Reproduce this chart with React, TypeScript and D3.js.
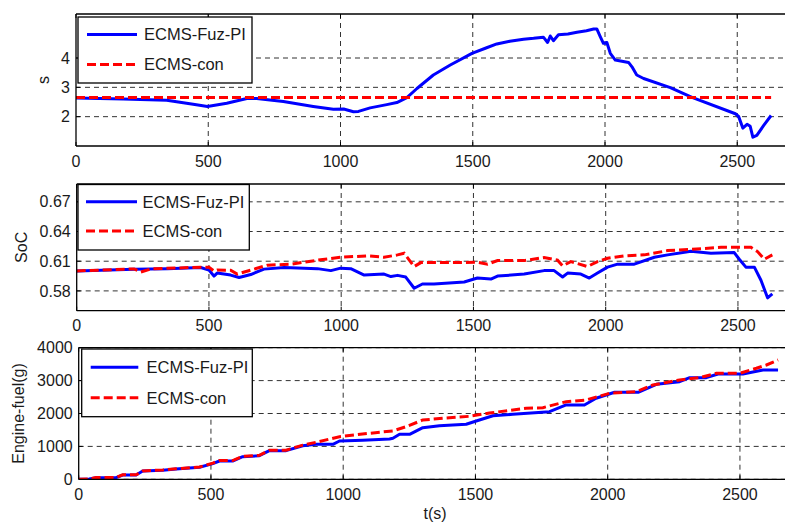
import React from "react";
import * as d3 from "d3";

// ---------- data ----------
const xTicks = [0, 500, 1000, 1500, 2000, 2500];

const sFuzT = [0, 178, 343, 443, 497, 570, 646, 683, 784, 897, 973, 1012, 1049, 1068, 1112, 1175, 1213, 1251, 1289, 1351, 1415, 1497, 1550, 1591, 1640, 1692, 1730, 1767, 1783, 1793, 1805, 1824, 1860, 1894, 1930, 1957, 1969, 1982, 1994, 2007, 2020, 2039, 2089, 2102, 2120, 2146, 2247, 2329, 2493, 2505, 2521, 2537, 2549, 2559, 2574, 2600, 2628];
const sFuzV = [2.64, 2.6, 2.56, 2.42, 2.35, 2.46, 2.62, 2.62, 2.52, 2.35, 2.25, 2.26, 2.17, 2.18, 2.3, 2.41, 2.48, 2.65, 2.96, 3.42, 3.76, 4.16, 4.34, 4.48, 4.57, 4.64, 4.67, 4.71, 4.53, 4.75, 4.59, 4.79, 4.82, 4.88, 4.93, 4.99, 4.99, 4.73, 4.5, 4.53, 4.16, 3.93, 3.85, 3.7, 3.42, 3.3, 2.99, 2.66, 2.1, 2.01, 1.61, 1.74, 1.67, 1.3, 1.36, 1.7, 2.04];
const sConT = [0, 2628];
const sConV = [2.65, 2.65];
const sTicks = [2, 3, 4];

const socFuzT = [0, 217, 343, 469, 500, 519, 531, 582, 614, 658, 708, 784, 910, 961, 998, 1036, 1087, 1162, 1188, 1213, 1244, 1276, 1307, 1351, 1465, 1515, 1566, 1591, 1692, 1767, 1805, 1837, 1856, 1906, 1938, 1969, 2007, 2045, 2108, 2184, 2234, 2322, 2398, 2486, 2505, 2530, 2562, 2587, 2612, 2630];
const socFuzV = [0.6002, 0.602, 0.6025, 0.6036, 0.601, 0.595, 0.598, 0.596, 0.5935, 0.5965, 0.602, 0.6036, 0.6025, 0.6005, 0.603, 0.6025, 0.596, 0.597, 0.5945, 0.5957, 0.594, 0.5827, 0.587, 0.587, 0.589, 0.593, 0.592, 0.595, 0.597, 0.6005, 0.6005, 0.594, 0.598, 0.597, 0.593, 0.598, 0.604, 0.607, 0.607, 0.614, 0.6164, 0.62, 0.618, 0.6187, 0.612, 0.604, 0.604, 0.5908, 0.573, 0.577];
const socConT = [0, 217, 242, 280, 469, 500, 519, 531, 582, 607, 658, 721, 809, 910, 998, 1099, 1162, 1213, 1238, 1276, 1301, 1440, 1515, 1553, 1591, 1692, 1767, 1818, 1837, 1868, 1931, 1969, 2007, 2070, 2146, 2234, 2322, 2436, 2549, 2574, 2600, 2630];
const socConV = [0.6002, 0.6022, 0.599, 0.6022, 0.604, 0.604, 0.6, 0.601, 0.6008, 0.597, 0.601, 0.606, 0.607, 0.611, 0.614, 0.6154, 0.614, 0.6164, 0.618, 0.6046, 0.6086, 0.6086, 0.609, 0.607, 0.6106, 0.6106, 0.6137, 0.611, 0.6053, 0.6096, 0.6046, 0.6096, 0.613, 0.6154, 0.6164, 0.6207, 0.622, 0.624, 0.624, 0.6197, 0.612, 0.6164];
const socTicks = [0.58, 0.61, 0.64, 0.67];

const fuelFuzT = [0, 40, 66, 141, 166, 217, 242, 318, 368, 457, 507, 532, 582, 620, 683, 721, 784, 847, 897, 961, 986, 1074, 1175, 1188, 1213, 1251, 1301, 1364, 1465, 1503, 1566, 1641, 1780, 1843, 1912, 1956, 2026, 2115, 2184, 2272, 2310, 2373, 2417, 2511, 2587, 2644];
const fuelFuzV = [0, 10, 50, 50, 130, 130, 250, 275, 313, 365, 475, 556, 556, 687, 718, 870, 870, 1021, 1064, 1064, 1164, 1186, 1225, 1246, 1368, 1368, 1569, 1629, 1672, 1772, 1933, 1976, 2055, 2259, 2259, 2462, 2645, 2645, 2888, 2967, 3089, 3089, 3201, 3201, 3323, 3323];
const fuelConT = [0, 40, 66, 141, 166, 217, 242, 318, 368, 457, 507, 532, 582, 620, 683, 721, 784, 847, 897, 986, 1099, 1188, 1238, 1301, 1377, 1478, 1553, 1692, 1755, 1843, 1918, 2007, 2108, 2171, 2272, 2348, 2411, 2499, 2562, 2600, 2644];
const fuelConV = [0, 10, 55, 55, 135, 135, 255, 285, 320, 375, 490, 570, 570, 700, 730, 880, 885, 1040, 1125, 1295, 1398, 1470, 1600, 1803, 1854, 1915, 2015, 2158, 2178, 2359, 2411, 2614, 2663, 2867, 3019, 3089, 3222, 3222, 3374, 3475, 3627];
const fuelTicks = [0, 1000, 2000, 3000, 4000];

const seriesNames = ["ECMS-Fuz-PI", "ECMS-con"];

// ---------- layout ----------
const FONT = "'Liberation Sans', Arial, Helvetica, sans-serif";
const PX_PER_UNIT = 0.2645;
const X_MAX = 2700;

type Panel = {
  left: number; top: number; bottom: number;
  yDomain: [number, number]; yTicks: number[];
  yLabel: string; yLabelX: number; fmt: (v: number) => string;
  fuz: [number[], number[]]; con: [number[], number[]];
  legend: { x: number; y: number; w: number; h: number; lx0: number; lx1: number; tx: number; r1: number; r2: number };
};

const panels: Panel[] = [
  {
    left: 76, top: 14, bottom: 146, yDomain: [1, 5.5], yTicks: sTicks,
    yLabel: "s", yLabelX: 43, fmt: (v) => String(v),
    fuz: [sFuzT, sFuzV], con: [sConT, sConV],
    legend: { x: 78, y: 17, w: 174, h: 66, lx0: 87, lx1: 137, tx: 144, r1: 34.5, r2: 64.5 },
  },
  {
    left: 76.7, top: 184, bottom: 310.7, yDomain: [0.56, 0.688], yTicks: socTicks,
    yLabel: "SoC", yLabelX: 21, fmt: (v) => v.toFixed(2),
    fuz: [socFuzT, socFuzV], con: [socConT, socConV],
    legend: { x: 78, y: 184.5, w: 171.3, h: 65.5, lx0: 86, lx1: 137, tx: 142.5, r1: 201.7, r2: 231 },
  },
  {
    left: 78.7, top: 347.7, bottom: 479.3, yDomain: [0, 4000], yTicks: fuelTicks,
    yLabel: "Engine-fuel(g)", yLabelX: 18.5, fmt: (v) => String(v),
    fuz: [fuelFuzT, fuelFuzV], con: [fuelConT, fuelConV],
    legend: { x: 81.7, y: 349, w: 170.6, h: 67.7, lx0: 90.7, lx1: 138.3, tx: 146.5, r1: 367.3, r2: 397.7 },
  },
];

const BLUE = "#0000ff";
const RED = "#ff0000";
const GRID = "#333333";

function PanelView({ p, idx }: { p: Panel; idx: number }) {
  const x = d3.scaleLinear().domain([0, X_MAX]).range([p.left, p.left + X_MAX * PX_PER_UNIT]);
  const y = d3.scaleLinear().domain(p.yDomain).range([p.bottom, p.top]);
  const right = x(X_MAX);
  const line = d3.line<[number, number]>().x((d) => x(d[0])).y((d) => y(d[1]));
  const pts = (s: [number[], number[]]) => s[0].map((t, i) => [t, s[1][i]] as [number, number]);
  const clipId = `clip${idx}`;
  const L = p.legend;
  return (
    <g>
      <defs>
        <clipPath id={clipId}>
          <rect x={p.left} y={p.top} width={right - p.left} height={p.bottom - p.top} />
        </clipPath>
      </defs>
      <rect x={p.left} y={p.top} width={right - p.left} height={p.bottom - p.top} fill="#fff" />
      {/* grid */}
      {xTicks.filter((t) => t > 0).map((t) => (
        <line key={"gx" + t} x1={x(t)} x2={x(t)} y1={p.top} y2={p.bottom} stroke={GRID} strokeWidth={1} strokeDasharray="5,4" />
      ))}
      {p.yTicks.map((t) => (
        <line key={"gy" + t} x1={p.left} x2={right} y1={y(t)} y2={y(t)} stroke={GRID} strokeWidth={1} strokeDasharray="5,4" />
      ))}
      {/* ticks */}
      {xTicks.map((t) => (
        <g key={"tx" + t}>
          <line x1={x(t)} x2={x(t)} y1={p.bottom} y2={p.bottom - 4} stroke="#000" />
          <line x1={x(t)} x2={x(t)} y1={p.top} y2={p.top + 4} stroke="#000" />
          <text x={x(t)} y={p.bottom + 20.5} textAnchor="middle" fontSize={16} fontFamily={FONT} fill="#1a1a1a">{t}</text>
        </g>
      ))}
      {p.yTicks.map((t) => (
        <g key={"ty" + t}>
          <line x1={p.left} x2={p.left + 4} y1={y(t)} y2={y(t)} stroke="#000" />
          <text x={p.left - 6} y={y(t)} dy="0.35em" textAnchor="end" fontSize={16} fontFamily={FONT} fill="#1a1a1a">{p.fmt(t)}</text>
        </g>
      ))}
      {/* series */}
      <g clipPath={`url(#${clipId})`}>
        <path d={line(pts(p.fuz)) || ""} fill="none" stroke={BLUE} strokeWidth={3} strokeLinejoin="round" />
        <path d={line(pts(p.con)) || ""} fill="none" stroke={RED} strokeWidth={3} strokeDasharray="9,4" />
      </g>
      {/* frame */}
      <line x1={p.left} x2={p.left} y1={p.top} y2={p.bottom} stroke="#000" strokeWidth={1.3} />
      <line x1={p.left} x2={right} y1={p.bottom} y2={p.bottom} stroke="#000" strokeWidth={1.3} />
      <line x1={p.left} x2={right} y1={p.top} y2={p.top} stroke="#000" strokeWidth={1.3} />
      {/* y label */}
      <text transform={`translate(${p.yLabelX},${(p.top + p.bottom) / 2}) rotate(-90)`} dy="0.35em" textAnchor="middle" fontSize={16} fontFamily={FONT} fill="#1a1a1a">{p.yLabel}</text>
      {/* legend */}
      <rect x={L.x} y={L.y} width={L.w} height={L.h} fill="#fff" stroke="#000" strokeWidth={1.3} />
      <line x1={L.lx0} x2={L.lx1} y1={L.r1} y2={L.r1} stroke={BLUE} strokeWidth={3} />
      <line x1={L.lx0} x2={L.lx1} y1={L.r2} y2={L.r2} stroke={RED} strokeWidth={3} strokeDasharray="9,4" />
      <text x={L.tx} y={L.r1} dy="0.36em" fontSize={16.5} fontFamily={FONT} fill="#1a1a1a">{seriesNames[0]}</text>
      <text x={L.tx} y={L.r2} dy="0.36em" fontSize={16.5} fontFamily={FONT} fill="#1a1a1a">{seriesNames[1]}</text>
    </g>
  );
}

export default function App() {
  return (
    <svg width={785} height={523} style={{ position: "absolute", left: 0, top: 0, background: "#fff" }}>
      <rect x={0} y={0} width={785} height={523} fill="#fff" />
      {panels.map((p, i) => (
        <PanelView key={i} p={p} idx={i} />
      ))}
      <text x={435} y={519} textAnchor="middle" fontSize={16} fontFamily={FONT} fill="#1a1a1a">t(s)</text>
    </svg>
  );
}
